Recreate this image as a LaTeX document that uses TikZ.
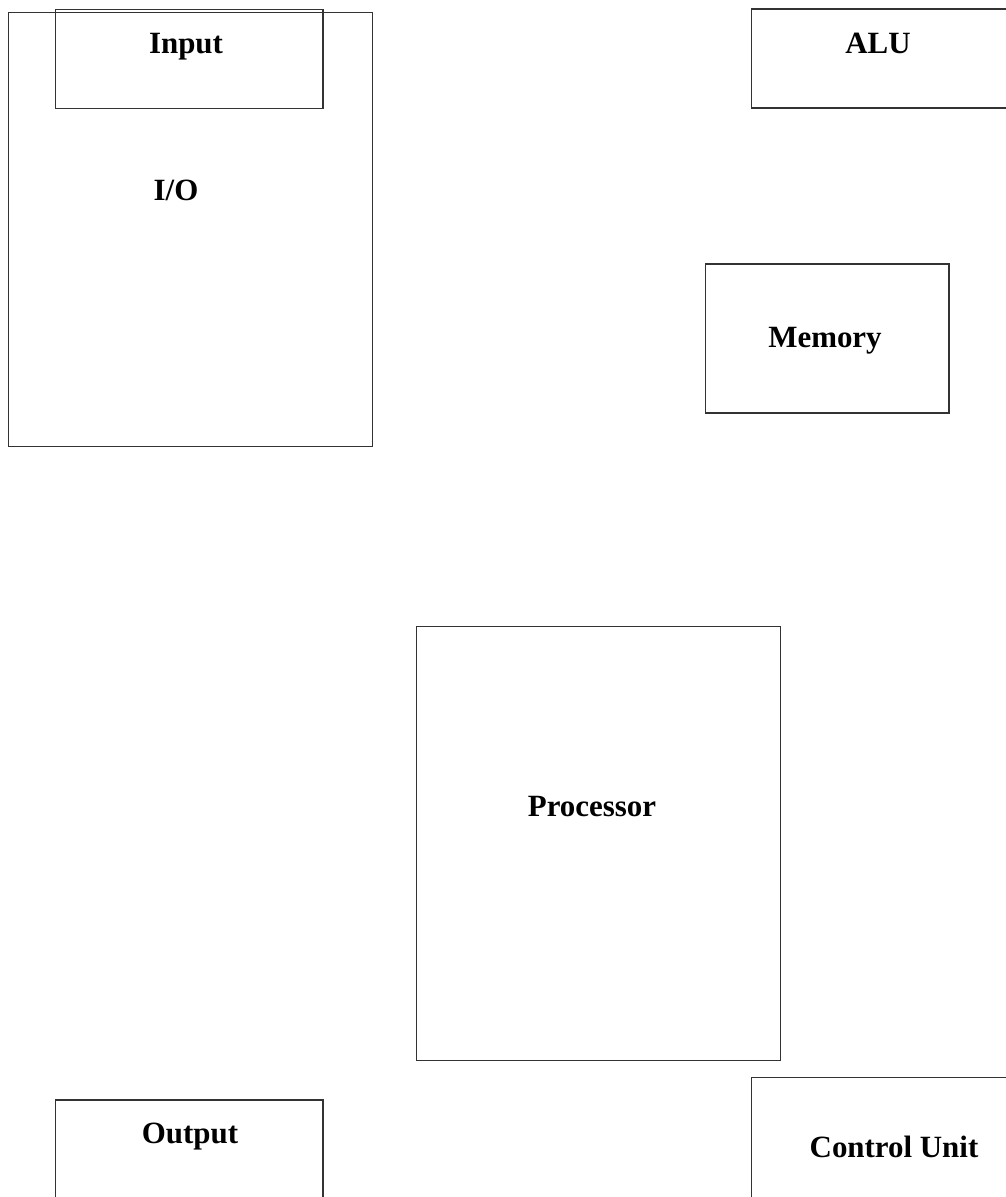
\documentclass[tikz,border=0pt]{standalone}
\usepackage{fontspec}
\setmainfont{Liberation Serif}
\usepackage{tikz}
\usetikzlibrary{positioning}

\begin{document}
\begin{tikzpicture}[
    x=0.02cm, y=-0.02cm,
    unitbox/.style={rectangle, draw=black!80, line width=0.6pt,
                inner sep=0pt, fill=none},
    unitname/.style={font=\fontsize{17.6}{21}\selectfont\bfseries,
                inner sep=0pt, anchor=base},
]
\useasboundingbox (0,0) rectangle (1006,1197);
\clip (0,0) rectangle (1006,1197);

% boxes
\node[unitbox, minimum width=7.29cm, minimum height=8.7cm] (io) at (190.75,229.5) {};
\node[unitbox, minimum width=5.36cm, minimum height=1.98cm] (input) at (189,59) {};
\node[unitbox, minimum width=5.36cm, minimum height=1.98cm] (alu) at (885,58.5) {};
\node[unitbox, minimum width=4.88cm, minimum height=2.98cm] (memory) at (827,338.5) {};
\node[unitbox, minimum width=7.3cm, minimum height=8.7cm] (processor) at (598.5,843.5) {};
\node[unitbox, minimum width=5.36cm, minimum height=1.98cm] (output) at (189,1149.5) {};
\node[unitbox, minimum width=5.36cm, minimum height=2.98cm] (control) at (885,1151.5) {};

% labels
\node[unitname] (inputlbl) at (186,53) {Input};
\node[unitname] (iolbl) at (176,200) {I/O};
\node[unitname] (alulbl) at (878,53) {ALU};
\node[unitname] (memorylbl) at (825,347) {Memory};
\node[unitname] (processorlbl) at (592,816) {Processor};
\node[unitname] (outputlbl) at (190,1143) {Output};
\node[unitname] (controllbl) at (894,1157) {Control Unit};

\end{tikzpicture}
\end{document}
